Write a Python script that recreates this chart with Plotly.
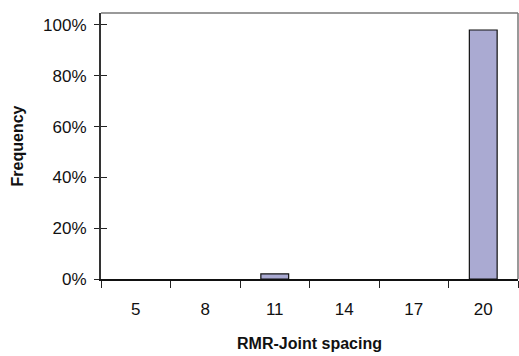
import plotly.graph_objects as go

# Histogram of RMR joint spacing ratings
categories = ["5", "8", "11", "14", "17", "20"]
frequency_pct = [0, 0, 2, 0, 0, 98]
y_tick_vals = [0, 20, 40, 60, 80, 100]
y_tick_text = ["0%", "20%", "40%", "60%", "80%", "100%"]

font_family = "Liberation Sans, Arial, Helvetica, sans-serif"

# empty bins get no outline so they stay invisible on the baseline
outline_widths = [1.2 if v > 0 else 0 for v in frequency_pct]

fig = go.Figure()
fig.add_trace(go.Bar(
    x=categories,
    y=frequency_pct,
    marker=dict(color="#aaaad2", line=dict(color="#111111", width=outline_widths)),
    showlegend=False,
))
# invisible helper trace so the secondary y axis (inner tick marks) renders
fig.add_trace(go.Scatter(x=categories, y=frequency_pct, yaxis="y2",
                         mode="markers", marker=dict(opacity=0),
                         showlegend=False, hoverinfo="skip"))

fig.update_layout(
    width=519, height=356,
    margin=dict(l=101, r=1, t=13, b=77),
    paper_bgcolor="white", plot_bgcolor="white",
    bargap=0.6,
    font=dict(family=font_family, color="#111111"),
    xaxis=dict(
        type="category",
        tickson="boundaries",
        ticks="outside", ticklen=7, tickcolor="#222222", tickwidth=1,
        showline=True, linecolor="#111111", linewidth=1.5,
        showgrid=False, zeroline=False,
        tickfont=dict(size=17, family=font_family),
        ticklabelstandoff=14,
        title=dict(text="<b>RMR-Joint spacing</b>",
                   font=dict(size=16, family=font_family), standoff=20),
    ),
    yaxis=dict(
        range=[0, 104.7],
        tickvals=y_tick_vals, ticktext=y_tick_text,
        ticks="outside", ticklen=5, tickcolor="#222222", tickwidth=1,
        showline=True, linecolor="#333333", linewidth=2,
        showgrid=False, zeroline=False,
        tickfont=dict(size=17, family=font_family),
        ticklabelstandoff=4,
        title=dict(text="<b>Frequency</b>",
                   font=dict(size=16, family=font_family), standoff=16),
    ),
    yaxis2=dict(
        overlaying="y", side="left", anchor="x",
        range=[0, 104.7],
        tickvals=y_tick_vals, ticks="inside", ticklen=6,
        tickcolor="#222222", tickwidth=1,
        showticklabels=False, showgrid=False, zeroline=False, showline=False,
    ),
    shapes=[
        dict(type="line", xref="paper", yref="paper", x0=0, x1=1, y0=1, y1=1,
             line=dict(color="#777777", width=1.5)),
        dict(type="line", xref="paper", yref="paper", x0=1, x1=1, y0=0, y1=1,
             line=dict(color="#777777", width=1.5)),
    ],
)

fig.write_html("out.html")
